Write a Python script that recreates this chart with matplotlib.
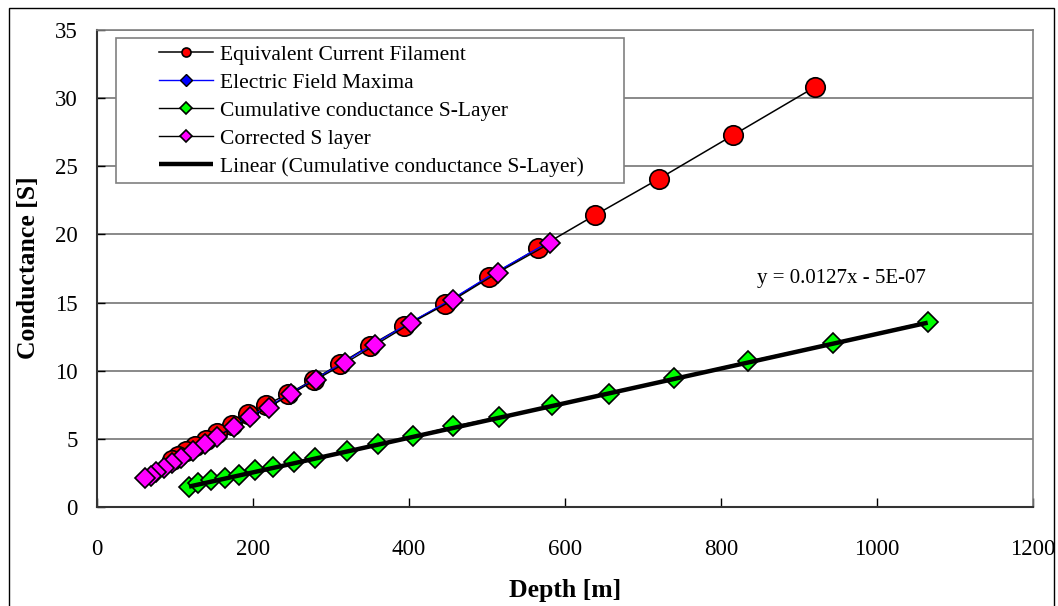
import matplotlib
matplotlib.use("Agg")
import matplotlib.pyplot as plt
from matplotlib.patches import Rectangle
import numpy as np

# values
ecf_depth = [920, 816, 721, 638, 566, 503, 446, 394, 350, 311, 278, 245, 217, 193, 173, 154, 140, 126, 114, 104, 96]
ecf_cond = [30.8, 27.3, 24.1, 21.4, 19.0, 16.9, 14.9, 13.3, 11.85, 10.5, 9.35, 8.3, 7.5, 6.8, 6.05, 5.45, 4.95, 4.5, 4.1, 3.75, 3.45]

efm_depth = [575, 509, 452, 399, 353, 314, 279, 247, 218, 194, 174, 153, 139, 124, 109, 97, 87, 77, 70, 63]
efm_cond = [19.3, 17.15, 15.15, 13.45, 11.9, 10.55, 9.35, 8.3, 7.3, 6.6, 5.85, 5.17, 4.6, 4.1, 3.6, 3.2, 2.85, 2.55, 2.3, 2.15]

cum_depth = [118, 130, 146, 164, 182, 202, 226, 253, 280, 321, 360, 405, 457, 516, 583, 656, 740, 835, 944, 1065]
cum_cond = [1.47, 1.73, 1.95, 2.1, 2.35, 2.68, 2.95, 3.28, 3.62, 4.1, 4.6, 5.18, 5.92, 6.6, 7.45, 8.3, 9.43, 10.68, 12.04, 13.6]

cor_depth = [581, 514, 457, 403, 357, 318, 281, 249, 220, 196, 175, 154, 138, 123, 108, 96, 86, 76, 69, 62]
cor_cond = [19.35, 17.2, 15.2, 13.5, 11.9, 10.55, 9.35, 8.3, 7.3, 6.6, 5.85, 5.17, 4.6, 4.1, 3.6, 3.2, 2.85, 2.55, 2.3, 2.15]

# Excel trendline for the cumulative series
fit_slope = 0.0127
fit_icept = -5e-07

x_ticks = [0, 200, 400, 600, 800, 1000, 1200]
y_ticks = [0, 5, 10, 15, 20, 25, 30, 35]

plt.rcParams["font.family"] = ["Liberation Serif", "DejaVu Serif"]

W, H = 1058, 606
fig = plt.figure(figsize=(W / 100, H / 100), dpi=100)
ax = fig.add_axes([97 / W, 1 - 507 / H, (1033 - 97) / W, (507 - 30) / H])

ax.plot(ecf_depth, ecf_cond, color="black", lw=1.1, marker="o", ms=14,
        mfc="#ff0000", mec="black", mew=1.2, label="Equivalent Current Filament", zorder=3)
ax.plot(efm_depth, efm_cond, color="#0000ff", lw=1.0, marker="D", ms=5,
        mfc="#0000ff", mec="black", mew=1.0, label="Electric Field Maxima", zorder=4)
ax.plot(cum_depth, cum_cond, color="black", lw=1.0, marker="D", ms=10.5,
        mfc="#00ff00", mec="black", mew=1.2, label="Cumulative conductance S-Layer", zorder=5)
ax.plot(cor_depth, cor_cond, color="black", lw=1.0, marker="D", ms=10.5,
        mfc="#ff00ff", mec="black", mew=1.2, label="Corrected S layer", zorder=6)

xf = np.array([min(cum_depth), max(cum_depth)])
ax.plot(xf, fit_slope * xf + fit_icept, color="black", lw=3.2, solid_capstyle="butt",
        label="Linear (Cumulative conductance S-Layer)", zorder=7)

ax.text(846, 16.8, "y = 0.0127x - 5E-07", fontsize=15, va="center", ha="left")

ax.set_xlim(0, 1200)
ax.set_ylim(0, 35)
ax.set_xticks(x_ticks)
ax.set_yticks(y_ticks)
ax.yaxis.grid(True, color="#808080", lw=1.3)
ax.set_axisbelow(True)
ax.tick_params(axis="x", direction="in", length=6.5, width=1, pad=23, labelsize=16.5)
ax.tick_params(axis="y", direction="in", length=6, width=1, pad=14, labelsize=16.5)
for side in ("top", "right"):
    ax.spines[side].set_color("#808080")
    ax.spines[side].set_linewidth(1.2)
for side in ("left", "bottom"):
    ax.spines[side].set_color("#333333")
    ax.spines[side].set_linewidth(1.5)

# legend box drawn separately (Excel keeps a wide left margin)
fig.patches.append(Rectangle((116 / W, 1 - 183 / H), (624 - 116) / W, (183 - 38) / H,
                             transform=fig.transFigure, facecolor="white",
                             edgecolor="#808080", lw=1.2, zorder=8))
leg = fig.legend(loc="upper left", bbox_to_anchor=(159 / W, 1 - 44.5 / H), frameon=False,
                 fontsize=15.5, handlelength=2.5, handletextpad=0.35, labelspacing=0.37,
                 borderaxespad=0, borderpad=0)
for h in leg.legend_handles:
    if h.get_marker() not in (None, "None", ""):
        h.set_markersize(6.5)
leg.set_zorder(9)

fig.text(565 / W, 1 - 590 / H, "Depth [m]", fontsize=18.5, fontweight="bold",
         ha="center", va="center")
fig.text(29 / W, 1 - 268 / H, "Conductance [S]", fontsize=18.5, fontweight="bold",
         ha="center", va="center", rotation=90)

# outer chart border
fig.patches.append(Rectangle((9 / W, -0.02), (1054 - 9) / W, 1.02 - 8 / H,
                             transform=fig.transFigure, fill=False,
                             edgecolor="black", lw=1.0))

fig.savefig("out.png", dpi=100)
